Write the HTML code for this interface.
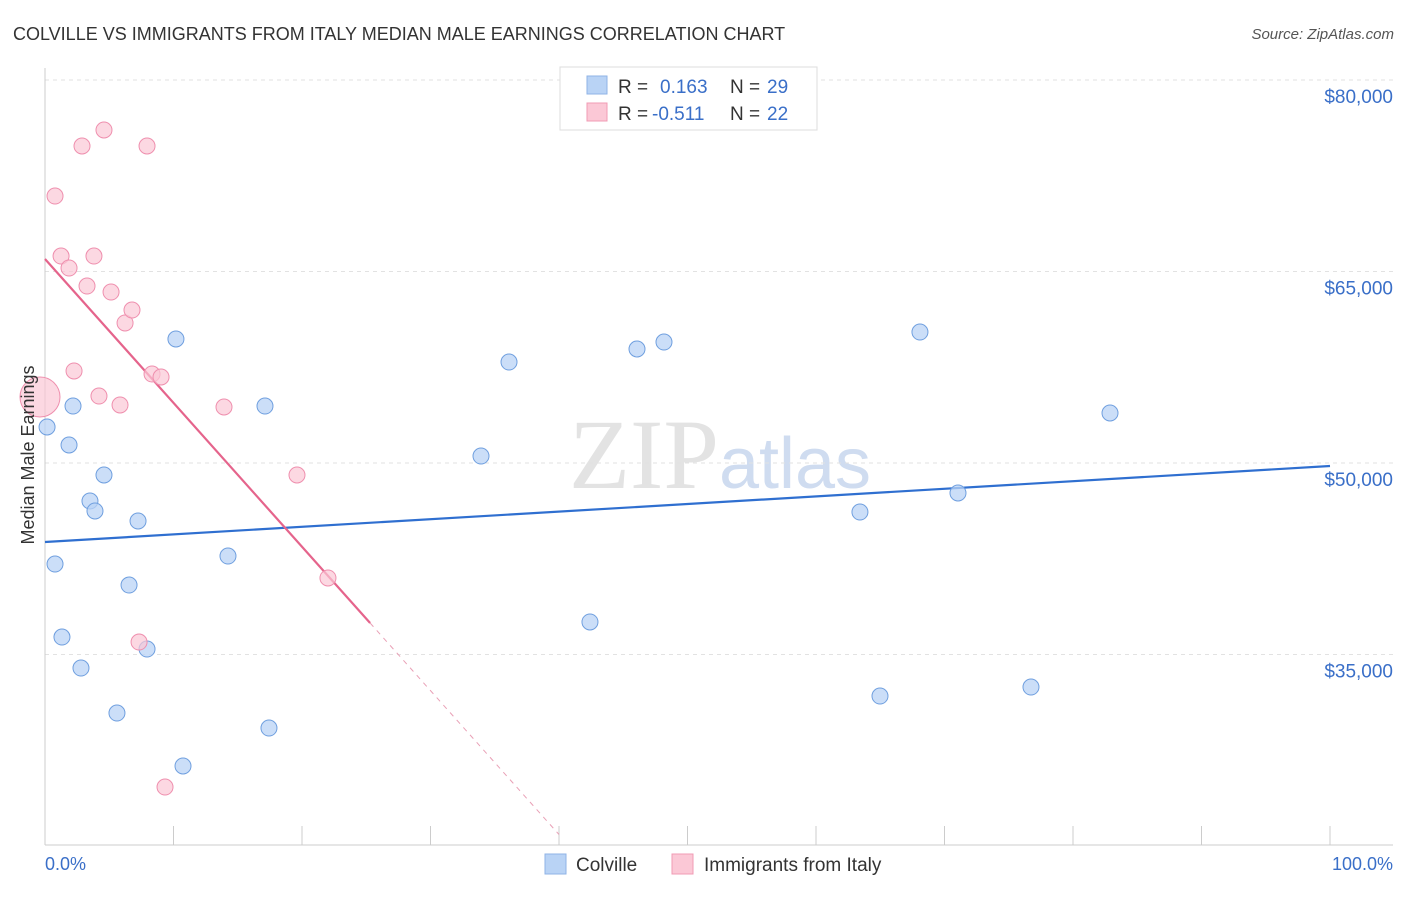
<!DOCTYPE html>
<html><head><meta charset="utf-8"><style>
body{margin:0;background:#fff;font-family:"Liberation Sans",sans-serif;}
</style></head><body>
<svg id="chart" width="1406" height="892" xmlns="http://www.w3.org/2000/svg" font-family="Liberation Sans, sans-serif">
<text x="13" y="40" font-size="18" fill="#333">COLVILLE VS IMMIGRANTS FROM ITALY MEDIAN MALE EARNINGS CORRELATION CHART</text>
<text x="1394" y="39" font-size="15" fill="#555" font-style="italic" text-anchor="end">Source: ZipAtlas.com</text>
<text x="720" y="488" font-size="100" text-anchor="middle" fill="#e3e3e3" font-family="Liberation Serif, serif">ZIP<tspan fill="#cfdcf0" font-family="Liberation Sans, sans-serif" font-size="72">atlas</tspan></text>
<g id="grid"></g><g id="axes"></g><g id="trends"></g><g id="points"></g>
<text transform="translate(34,455) rotate(-90)" font-size="18" fill="#333" text-anchor="middle">Median Male Earnings</text>
<text x="45" y="870" font-size="18" fill="#3a6fc8">0.0%</text>
<text x="1393" y="870" font-size="18" fill="#3a6fc8" text-anchor="end">100.0%</text>
<g>
<rect x="560" y="67" width="257" height="63" fill="#fff" stroke="#ddd"/>
<rect x="587" y="76" width="20" height="18" fill="#b9d3f5" stroke="#8fb3e6"/>
<rect x="587" y="103" width="20" height="18" fill="#fbc8d6" stroke="#f09bb4"/>
<text x="618" y="93" font-size="19" fill="#333">R = </text><text x="660" y="93" font-size="19" fill="#3a6fc8">0.163</text>
<text x="730" y="93" font-size="19" fill="#333">N = </text><text x="767" y="93" font-size="19" fill="#3a6fc8">29</text>
<text x="618" y="120" font-size="19" fill="#333">R = </text><text x="652" y="120" font-size="19" fill="#3a6fc8">-0.511</text>
<text x="730" y="120" font-size="19" fill="#333">N = </text><text x="767" y="120" font-size="19" fill="#3a6fc8">22</text>
</g>
<g>
<rect x="545" y="854" width="21" height="20" fill="#b9d3f5" stroke="#8fb3e6"/>
<text x="576" y="871" font-size="19" fill="#333">Colville</text>
<rect x="672" y="854" width="21" height="20" fill="#fbc8d6" stroke="#f09bb4"/>
<text x="704" y="871" font-size="19" fill="#333">Immigrants from Italy</text>
</g>
</svg>
<script>
const yTicks=[80000,65000,50000,35000];
const yTickLabels=["$80,000","$65,000","$50,000","$35,000"];
const xTicks=[0,10,20,30,40,50,60,70,80,90,100];
const colvilleX=[0.16,0.78,1.32,1.87,2.18,2.80,3.50,3.89,4.59,5.60,6.54,7.24,7.94,10.19,10.74,14.24,17.12,17.43,33.93,36.11,42.41,46.07,48.17,63.42,64.98,68.09,71.05,76.73,82.88];
const colvilleY=[52820,42087,36370,51410,54463,33940,47023,46240,49060,30417,40443,45457,35430,59713,26267,42713,54463,29240,50547,57910,37547,58930,59477,46160,31747,60260,47650,32453,53917];
const italyX=[0,0.78,1.25,1.87,2.88,3.27,3.81,2.26,4.20,4.59,5.14,5.84,6.23,6.77,7.94,8.33,9.03,9.34,7.32,13.93,19.61,22.02];
const italyY=[55170,70913,66213,65273,74830,63863,66213,57207,55247,76083,63393,54543,60967,61983,74830,56970,56737,24620,35977,54387,49060,40993];
const blueTrend=[43812,49765];
const pinkTrend=[65980,-1127]; // intercept, slope per %
const NS="http://www.w3.org/2000/svg";
const sx=p=>45+p*12.85;
const sy=v=>80+(80000-v)/15000*191.5;
function mk(tag,attrs,parent){const e=document.createElementNS(NS,tag);for(const k in attrs)e.setAttribute(k,attrs[k]);document.getElementById(parent).appendChild(e);return e;}
yTicks.forEach((t,i)=>{
 const l=mk('line',{x1:45,x2:1393,y1:sy(t),y2:sy(t),stroke:'#e2e2e2','stroke-dasharray':'4,4'},'grid');
 
 
 const tx=mk('text',{x:1393,y:sy(t)+23,'font-size':19,fill:'#3a6fc8','text-anchor':'end'},'grid');
 tx.textContent=yTickLabels[i];
 
 
});
const ax=mk('line',{x1:45,x2:45,y1:68,y2:845,stroke:'#ccc'},'axes');


const bx=mk('line',{x1:45,x2:1393,y1:845,y2:845,stroke:'#ccc'},'axes');


xTicks.forEach(t=>{
 const l=mk('line',{x1:sx(t),x2:sx(t),y1:826,y2:845,stroke:'#ccc'},'axes');
 
 
});
const bt=mk('line',{x1:sx(0),y1:sy(blueTrend[0]),x2:sx(100),y2:sy(blueTrend[1]),stroke:'#2f6fd0','stroke-width':2.2},'trends');


const pv=p=>pinkTrend[0]+pinkTrend[1]*p;
const pt=mk('line',{x1:sx(0),y1:sy(pv(0)),x2:sx(25.3),y2:sy(pv(25.3)),stroke:'#e5648c','stroke-width':2.2},'trends');


const pd=mk('line',{x1:sx(25.3),y1:sy(pv(25.3)),x2:sx(40),y2:sy(pv(40)),stroke:'#e9a0b6','stroke-width':1,'stroke-dasharray':'5,5'},'trends');


colvilleX.forEach((x,i)=>{
 const c=mk('circle',{cx:sx(x),cy:sy(colvilleY[i]),r:8,fill:'#b9d3f5','fill-opacity':0.75,stroke:'#6f9fdf','stroke-width':1},'points');
 
 
});
italyX.forEach((x,i)=>{
 const c=mk('circle',{cx:sx(x)-(i===0?5:0),cy:sy(italyY[i]),r:i===0?20:8,fill:'#fbc8d6','fill-opacity':0.7,stroke:'#ef8fae','stroke-width':1},'points');
 
 
});
</script>
</body></html>
